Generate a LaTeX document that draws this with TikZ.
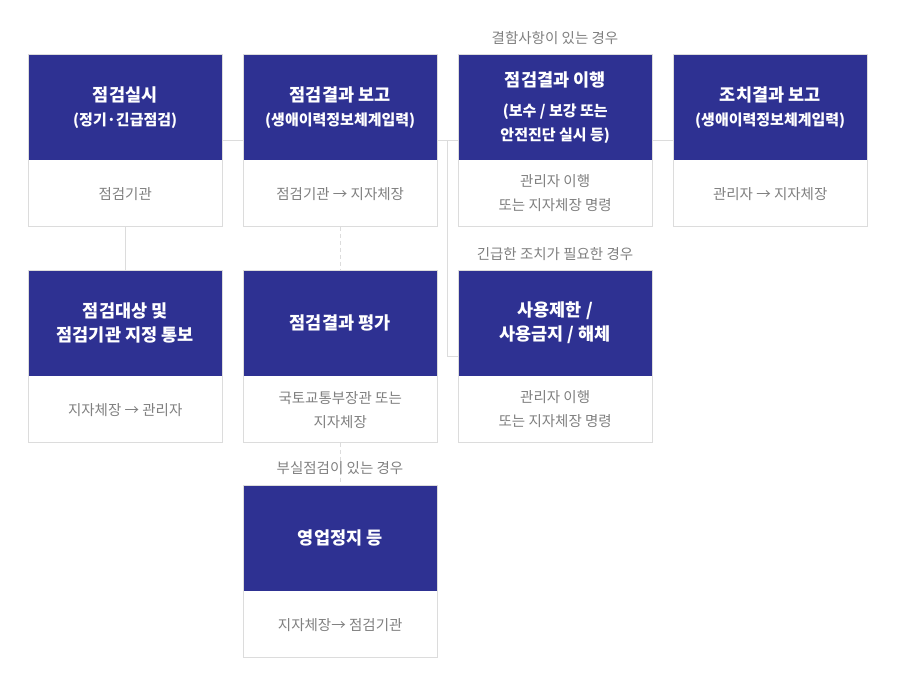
\documentclass[tikz,border=0pt]{standalone}
\usepackage{fontspec}
\setmainfont{Noto Sans CJK KR}
\usetikzlibrary{positioning}
\definecolor{navy}{HTML}{2E3192}
\definecolor{edge}{HTML}{DCDCDC}
\definecolor{note}{HTML}{808080}

\begin{document}
\begin{tikzpicture}[x=1pt, y=-1pt,
    head/.style={fill=navy, minimum width=194pt, minimum height=106pt, inner sep=0pt, anchor=north west, align=center, text=white, font=\fontsize{15}{24}\selectfont\bfseries},
    body/.style={fill=white, minimum width=194pt, minimum height=66pt, inner sep=0pt, align=center, text=note, font=\fontsize{14.5}{24}\selectfont},
    cond/.style={inner sep=0pt, text=note, font=\fontsize{14.5}{20}\selectfont},
    link/.style={draw=edge, line width=1pt},
    big/.style={font=\fontsize{17.5}{24}\selectfont\bfseries}]
    \useasboundingbox (0,0) rectangle (898,688);

    % first row
    \node[head] (h11) at (28,54) {{\fontsize{17.5}{24}\selectfont 점검실시}\\(정기·긴급점검)};
    \node[body, below=0pt of h11] (b11) {점검기관};
    \node[head] (h12) at (243,54) {{\fontsize{17.5}{24}\selectfont 점검결과 보고}\\(생애이력정보체계입력)};
    \node[body, below=0pt of h12] (b12) {점검기관 → 지자체장};
    \node[head] (h13) at (458,54) {{\fontsize{17.5}{24}\selectfont 점검결과 이행}\\[6pt](보수 / 보강 또는\\안전진단 실시 등)};
    \node[body, below=0pt of h13] (b13) {관리자 이행\\또는 지자체장 명령};
    \node[head] (h14) at (673,54) {{\fontsize{17.5}{24}\selectfont 조치결과 보고}\\(생애이력정보체계입력)};
    \node[body, below=0pt of h14] (b14) {관리자 → 지자체장};

    % second row
    \node[head, big] (h21) at (28,270) {점검대상 및\\점검기관 지정 통보};
    \node[body, below=0pt of h21] (b21) {지자체장 → 관리자};
    \node[head, big] (h22) at (243,270) {점검결과 평가};
    \node[body, below=0pt of h22] (b22) {국토교통부장관 또는\\지자체장};
    \node[head, big] (h23) at (458,270) {사용제한 /\\사용금지 / 해체};
    \node[body, below=0pt of h23] (b23) {관리자 이행\\또는 지자체장 명령};

    % third row
    \node[head, big] (h32) at (243,485) {영업정지 등};
    \node[body, below=0pt of h32] (b32) {지자체장→ 점검기관};

    % card frames
    \foreach \n in {11,12,13,14,21,22,23,32}
      \draw[link] (h\n.north west) rectangle (b\n.south east);

    % conditions
    \node[cond] (c13) at (555,38) {결함사항이 있는 경우};
    \node[cond] (c23) at (555,254) {긴급한 조치가 필요한 경우};

    % connectors
    \coordinate (mid) at (0,140);
    \coordinate (fork) at (447,140);
    \coordinate (low) at (0,356);
    \draw[link] (h11.east |- mid) -- (h12.west |- mid);
    \draw[link] (h12.east |- mid) -- (h13.west |- mid);
    \draw[link] (h13.east |- mid) -- (h14.west |- mid);
    \draw[link] (fork) |- (h23.west |- low);
    \draw[link] (b11.south) -- (h21.north);
    \draw[link, dash pattern=on 4pt off 3pt] (b12.south) -- (h22.north);
    \draw[link, dash pattern=on 4pt off 3pt] (b22.south) -- (h32.north);

    \node[cond] (c32) at (340,468) {부실점검이 있는 경우};
\end{tikzpicture}
\end{document}
